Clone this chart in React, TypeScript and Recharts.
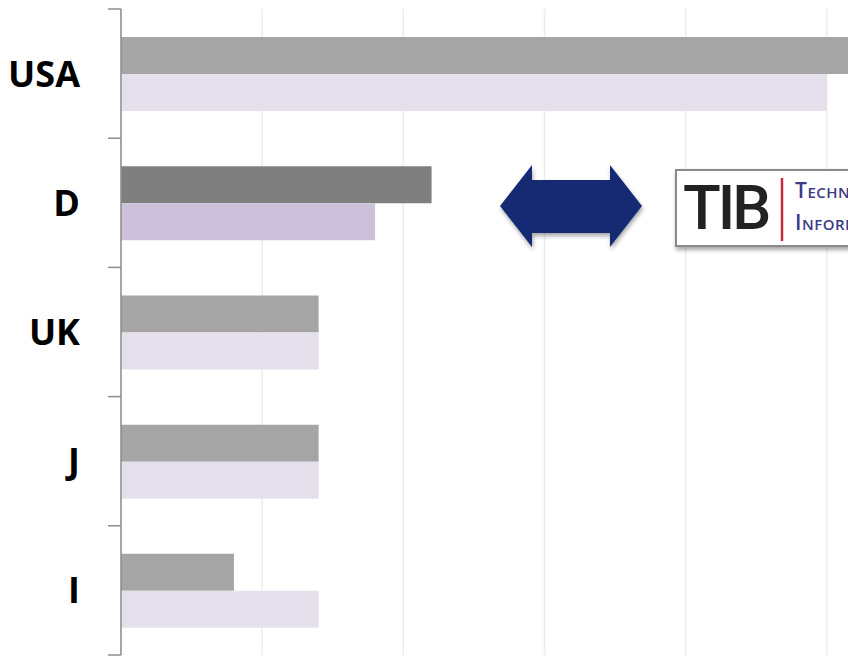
import React from 'react'
import { BarChart, Bar, XAxis, YAxis, CartesianGrid, Cell } from 'recharts'

const countries = ['USA', 'D', 'UK', 'J', 'I']
const seriesA = [5.6, 2.2, 1.4, 1.4, 0.8]
const seriesB = [5.0, 1.8, 1.4, 1.4, 1.4]
const valueTicks = [0, 1, 2, 3, 4, 5, 6]
const highlighted = 'D'

const GRAY = '#a5a5a5'
const GRAY_DARK = '#7f7f7f'
const LILAC = '#e5e0ec'
const LILAC_DARK = '#ccc1da'
const NAVY = '#142c73'
const AXIS = '#8c8c8c'

const data = countries.map((name, i) => ({ name, a: seriesA[i], b: seriesB[i] }))

const labelFont = '"Open Sans", "DejaVu Sans", sans-serif'
const LABEL_GAP = 41
const TICK_LEN = 13

// category label plus the tick marks that sit on the band edges (as in Excel)
function CountryTick(props: any) {
    const { x, y, payload, index, visibleTicksCount } = props
    const half = payload.offset ?? 0
    const axisX = x + LABEL_GAP
    const isLast = index === visibleTicksCount - 1
    return (
        <g>
            <line x1={axisX - TICK_LEN} x2={axisX} y1={y - half} y2={y - half} stroke={AXIS} strokeWidth={1.5} />
            {isLast && (
                <line x1={axisX - TICK_LEN} x2={axisX} y1={y + half} y2={y + half} stroke={AXIS} strokeWidth={1.5} />
            )}
            <text
                x={x}
                y={y}
                dy="0.36em"
                textAnchor="end"
                fontFamily={labelFont}
                fontSize={36}
                fontWeight={700}
                fill="#000"
            >
                {payload.value}
            </text>
        </g>
    )
}

function Decorations() {
    return (
        <svg
            width={848}
            height={656}
            style={{ position: 'absolute', left: 0, top: 0, pointerEvents: 'none' }}
        >
            <defs>
                <filter id="shadow" x="-10%" y="-10%" width="130%" height="140%">
                    <feDropShadow dx="1" dy="3" stdDeviation="2" floodColor="#000" floodOpacity="0.35" />
                </filter>
            </defs>
            {/* double arrow */}
            <polygon
                points="500,206 532,165 532,180 610,180 610,165 642,206 610,247 610,233 532,233 532,247"
                fill={NAVY}
                filter="url(#shadow)"
            />
            {/* TIB logo box, cut by the right edge as in the slide */}
            <rect x={676} y={170} width={240} height={76} fill="#fff" stroke="#8a8a8a" strokeWidth={2} filter="url(#shadow)" />
            <text
                x={683}
                y={229}
                fontFamily='Roboto, "Liberation Sans", sans-serif'
                fontWeight={500}
                fontSize={62}
                letterSpacing={-3}
                fill="#222"
            >
                TIB
            </text>
            <line x1={782} y1={178} x2={782} y2={241} stroke="#c8283c" strokeWidth={2.5} />
            <text x={795} y={198} fontFamily='"Open Sans", sans-serif' fontWeight={600} fontSize={21} letterSpacing={0.5} fill="#3a3a86">
                T<tspan fontSize={15}>ECHNISCHE</tspan>
            </text>
            <text x={795} y={230} fontFamily='"Open Sans", sans-serif' fontWeight={600} fontSize={21} letterSpacing={0.5} fill="#3a3a86">
                I<tspan fontSize={15}>NFORMATIONSBIBLIOTHEK</tspan>
            </text>
        </svg>
    )
}

export default function App() {
    return (
        <div
            style={{
                position: 'absolute',
                left: 0,
                top: 0,
                width: 848,
                height: 656,
                overflow: 'hidden',
                background: '#fff',
            }}
        >
            <BarChart
                width={1000}
                height={670}
                data={data}
                layout="vertical"
                margin={{ top: 9, right: 32, bottom: 15, left: 0 }}
                barCategoryGap="21.7%"
                barGap={0}
            >
                <CartesianGrid horizontal={false} stroke="#ececec" strokeWidth={1.5} />
                <XAxis type="number" domain={[0, 6]} ticks={valueTicks} hide />
                <YAxis
                    type="category"
                    dataKey="name"
                    width={121}
                    axisLine={{ stroke: AXIS, strokeWidth: 1.5 }}
                    tickLine={false}
                    tickSize={0}
                    tickMargin={LABEL_GAP}
                    tick={<CountryTick />}
                />
                <Bar dataKey="a" isAnimationActive={false}>
                    {data.map(d => (
                        <Cell key={d.name} fill={d.name === highlighted ? GRAY_DARK : GRAY} />
                    ))}
                </Bar>
                <Bar dataKey="b" isAnimationActive={false}>
                    {data.map(d => (
                        <Cell key={d.name} fill={d.name === highlighted ? LILAC_DARK : LILAC} />
                    ))}
                </Bar>
            </BarChart>
            <Decorations />
        </div>
    )
}
